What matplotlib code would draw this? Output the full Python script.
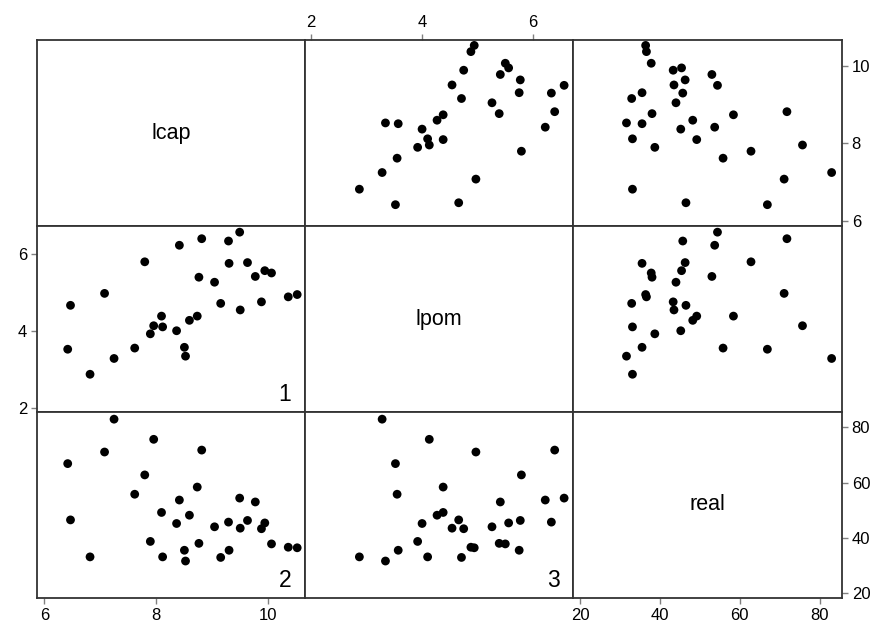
import matplotlib
matplotlib.use("Agg")
import matplotlib.pyplot as plt

plt.rcParams['font.family'] = ['Liberation Sans', 'DejaVu Sans']

# Observations (one entry per country)
lcap = [6.42, 6.47, 6.82, 7.08, 7.25, 7.62, 7.80, 7.90, 7.96, 8.10, 8.12,
        8.37, 8.42, 8.51, 8.53, 8.60, 8.74, 8.77, 8.82, 9.05, 9.16, 9.30,
        9.31, 9.50, 9.51, 9.64, 9.78, 9.89, 9.95, 10.07, 10.37, 10.53]
lpom = [3.52, 4.66, 2.87, 4.97, 3.28, 3.55, 5.79, 3.92, 4.13, 4.38, 4.10,
        4.00, 6.22, 3.57, 3.34, 4.27, 4.38, 5.39, 6.39, 5.26, 4.71, 6.33,
        5.75, 6.56, 4.54, 5.77, 5.41, 4.75, 5.56, 5.50, 4.88, 4.94]
real = [66.9, 46.5, 33.1, 71.1, 83.0, 55.8, 62.8, 38.7, 75.7, 49.2, 33.1,
        45.2, 53.7, 35.5, 31.6, 48.2, 58.4, 38.0, 71.8, 44.0, 32.9, 45.7,
        35.5, 54.4, 43.5, 46.3, 53.0, 43.3, 45.4, 37.8, 36.6, 36.4]

names = ["lcap", "lpom", "real"]
values = [lcap, lpom, real]
ticks = [[6, 8, 10], [2, 4, 6], [20, 40, 60, 80]]
limits = [(5.87, 10.67), (1.89, 6.72), (18.2, 85.6)]
corner_labels = {(1, 0): "1", (2, 0): "2", (2, 1): "3"}

W, H = 876, 633
fig = plt.figure(figsize=(W / 100, H / 100), dpi=100)

X = [37, 305, 573, 842]
Y = [40, 226, 412, 598]

box_color = "#333333"
tick_color = "#808080"
text_color = "black"

for r in range(3):
    for c in range(3):
        left = X[c] / W
        width = (X[c + 1] - X[c]) / W
        bottom = 1 - Y[r + 1] / H
        height = (Y[r + 1] - Y[r]) / H
        ax = fig.add_axes([left, bottom, width, height])
        ax.set_xlim(*limits[c])
        ax.set_ylim(*limits[r])
        for s in ax.spines.values():
            s.set_color(box_color)
            s.set_linewidth(1.3)
        ax.tick_params(which="both", length=0, labelbottom=False, labelleft=False,
                       labeltop=False, labelright=False)
        ax.set_xticks([])
        ax.set_yticks([])

        if r == c:
            ax.text(0.5, 0.5, names[r], transform=ax.transAxes, ha="center",
                    va="center", fontsize=15.5, color=text_color)
        else:
            ax.scatter(values[c], values[r], s=40, color="black",
                       edgecolors="none", zorder=3, clip_on=False)

        if (r, c) in corner_labels:
            ax.text(1 - 20 / (X[c + 1] - X[c]), 6 / (Y[r + 1] - Y[r]),
                    corner_labels[(r, c)], transform=ax.transAxes,
                    ha="center", va="bottom", fontsize=16.5, color=text_color)

        tick_kw = dict(length=4.5, width=1.0, color=tick_color,
                       labelcolor=text_color, labelsize=12, pad=2.5)
        # outer x axes: bottom for columns 0 and 2, top for column 1
        if r == 2 and c in (0, 2):
            ax.set_xticks(ticks[c])
            ax.tick_params(axis="x", bottom=True, labelbottom=True, **tick_kw)
        if r == 0 and c == 1:
            ax.set_xticks(ticks[c])
            ax.xaxis.set_ticks_position("top")
            ax.tick_params(axis="x", top=True, labeltop=True, bottom=False,
                           labelbottom=False, **tick_kw)
        # outer y axes: right for rows 0 and 2, left for row 1
        if c == 2 and r in (0, 2):
            ax.set_yticks(ticks[r])
            ax.yaxis.set_ticks_position("right")
            ax.tick_params(axis="y", right=True, labelright=True, left=False,
                           labelleft=False, **tick_kw)
        if c == 0 and r == 1:
            ax.set_yticks(ticks[r])
            ax.tick_params(axis="y", left=True, labelleft=True, **tick_kw)

fig.savefig("out.png", dpi=100, facecolor="white")
